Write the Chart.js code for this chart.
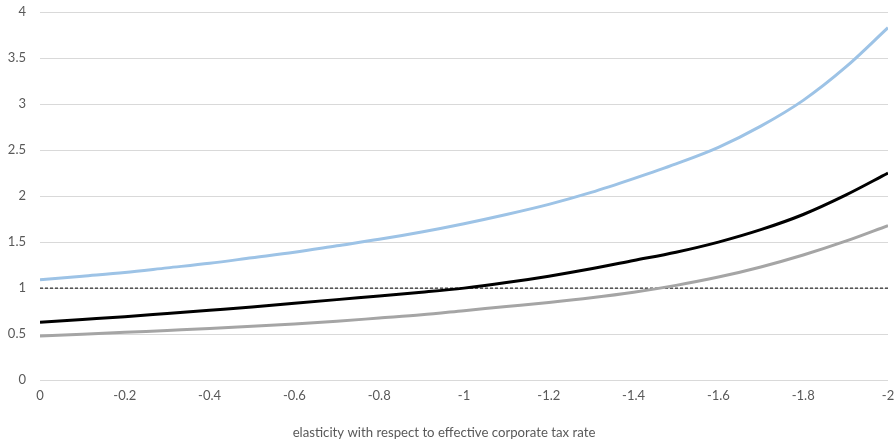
<!DOCTYPE html>
<html>
<head>
<meta charset="utf-8">
<script src="https://cdn.jsdelivr.net/npm/chart.js@4.4.1/dist/chart.umd.min.js"></script>
<style>
  html, body { margin: 0; padding: 0; background: #fff; }
  #wrap { width: 895px; height: 446px; position: relative; }
</style>
</head>
<body>
<div id="wrap"><canvas id="c" width="895" height="446"></canvas></div>
<script>
const elasticity = [0, -0.1, -0.2, -0.3, -0.4, -0.5, -0.6, -0.7, -0.8, -0.9, -1.0,
                    -1.1, -1.2, -1.3, -1.4, -1.5, -1.6, -1.7, -1.8, -1.9, -2.0];
const upperSeries = [1.09, 1.13, 1.17, 1.22, 1.27, 1.33, 1.39, 1.46, 1.53, 1.61, 1.70,
                     1.80, 1.91, 2.04, 2.19, 2.35, 2.53, 2.76, 3.04, 3.40, 3.83];
const centralSeries = [0.63, 0.66, 0.69, 0.725, 0.76, 0.795, 0.835, 0.875, 0.915, 0.955, 1.00,
                       1.06, 1.13, 1.21, 1.30, 1.39, 1.50, 1.635, 1.80, 2.01, 2.25];
const lowerSeries = [0.48, 0.50, 0.52, 0.54, 0.56, 0.585, 0.61, 0.64, 0.675, 0.71, 0.755,
                     0.80, 0.845, 0.895, 0.955, 1.03, 1.12, 1.23, 1.36, 1.51, 1.68];
const referenceLevel = [1, 1];
const referenceX = [0, -2];
const xTickValues = [0, -0.2, -0.4, -0.6, -0.8, -1, -1.2, -1.4, -1.6, -1.8, -2];
const yTickValues = [0, 0.5, 1, 1.5, 2, 2.5, 3, 3.5, 4];
const xTitle = 'elasticity with respect to effective corporate tax rate';

const toPts = (xs, ys) => xs.map((x, i) => ({ x: x, y: ys[i] }));
const FONT = 'Lato, "Liberation Sans", sans-serif';
const TXT = '#595959';

new Chart(document.getElementById('c'), {
  type: 'line',
  data: {
    datasets: [
      { data: toPts(elasticity, upperSeries), borderColor: '#9DC3E6', borderWidth: 3,
        pointRadius: 0, cubicInterpolationMode: 'monotone' },
      { data: toPts(elasticity, centralSeries), borderColor: '#000000', borderWidth: 3,
        pointRadius: 0, cubicInterpolationMode: 'monotone' },
      { data: toPts(elasticity, lowerSeries), borderColor: '#A5A5A5', borderWidth: 3,
        pointRadius: 0, cubicInterpolationMode: 'monotone' },
      { data: toPts(referenceX, referenceLevel), borderColor: '#000000', borderWidth: 1,
        borderDash: [3, 2], pointRadius: 0 }
    ]
  },
  options: {
    responsive: false,
    animation: false,
    layout: { padding: { top: 12, right: 7, left: 0, bottom: 0 } },
    plugins: {
      legend: { display: false },
      tooltip: { enabled: false },
      title: {
        display: true, position: 'bottom', text: xTitle, color: TXT,
        font: { family: FONT, size: 13.2, weight: 'normal', lineHeight: 1.2 },
        padding: { top: 10, bottom: 5 }
      }
    },
    scales: {
      x: {
        type: 'linear', reverse: true, min: -2, max: 0,
        afterBuildTicks: (s) => { s.ticks = xTickValues.map(v => ({ value: v })); },
        afterFit: (s) => { s.height = 35; s.paddingLeft = 0; s.paddingRight = 0; },
        grid: { display: false, drawTicks: false },
        border: { display: false },
        ticks: {
          padding: 8, color: TXT, maxRotation: 0, autoSkip: false,
          font: { family: FONT, size: 13 },
          callback: (v) => String(Math.round(v * 10) / 10)
        }
      },
      y: {
        min: 0, max: 4,
        afterBuildTicks: (s) => { s.ticks = yTickValues.map(v => ({ value: v })); },
        afterFit: (s) => { s.width = 40; s.paddingTop = 0; s.paddingBottom = 0; },
        grid: { color: '#D9D9D9', lineWidth: 1, drawTicks: false },
        border: { display: false },
        ticks: {
          padding: 14, color: TXT,
          font: { family: FONT, size: 13 },
          callback: (v) => String(v)
        }
      }
    }
  }
});
</script>
</body>
</html>
